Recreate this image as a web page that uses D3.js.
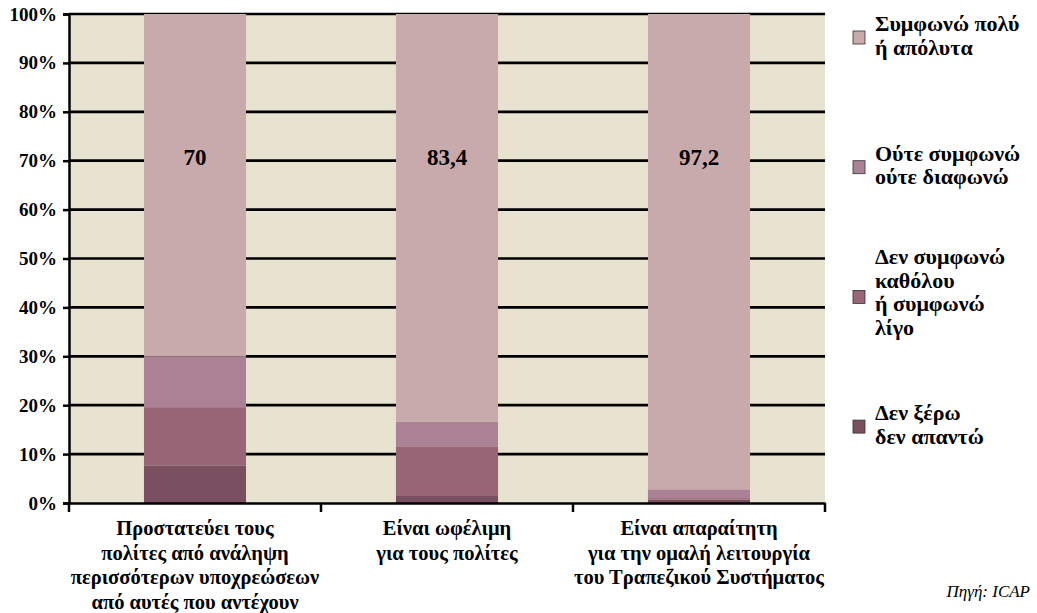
<!DOCTYPE html>
<html>
<head>
<meta charset="utf-8">
<script src="https://cdn.jsdelivr.net/npm/d3@7"></script>
<style>
  body { margin: 0; background: #fff; }
  text { font-family: "Liberation Serif", "Times New Roman", "DejaVu Serif", serif; }
</style>
</head>
<body>
<div id="chart"></div>
<script>
//
// data
//
var categories = [
  ["Προστατεύει τους", "πολίτες από ανάληψη", "περισσότερων υποχρεώσεων", "από αυτές που αντέχουν"],
  ["Είναι ωφέλιμη", "για τους πολίτες"],
  ["Είναι απαραίτητη", "για την ομαλή λειτουργία", "του Τραπεζικού Συστήματος"]
]
var seriesNames = ["Δεν ξέρω δεν απαντώ", "Δεν συμφωνώ καθόλου ή συμφωνώ λίγο", "Ούτε συμφωνώ ούτε διαφωνώ", "Συμφωνώ πολύ ή απόλυτα"]
var dontKnow = [7.7, 1.6, 0.7]
var disagree = [11.9, 10.0, 0.3]
var neutral = [10.4, 5.0, 1.8]
var agree = [70, 83.4, 97.2]
var valueLabels = ["70", "83,4", "97,2"]
var yTicks = [0, 10, 20, 30, 40, 50, 60, 70, 80, 90, 100]
var legendLines = [
  ["Συμφωνώ πολύ", "ή απόλυτα"],
  ["Ούτε συμφωνώ", "ούτε διαφωνώ"],
  ["Δεν συμφωνώ", "καθόλου", "ή συμφωνώ", "λίγο"],
  ["Δεν ξέρω", "δεν απαντώ"]
]
var colors = ["#7a5060", "#996677", "#ab8295", "#c8aaac"]

//
// draw
//
var W = 1037, H = 613
var mLeft = 69, mRight = 825, mTop = 14, mBottom = 503

var svg = d3.select("#chart").append("svg")
  .attr("width", W).attr("height", H)

var x = d3.scaleBand().domain(d3.range(categories.length)).range([mLeft, mRight]).padding(0)
var y = d3.scaleLinear().domain([0, 100]).range([mBottom, mTop])

var rows = categories.map(function(c, i) {
  return {i: i, s0: dontKnow[i], s1: disagree[i], s2: neutral[i], s3: agree[i]}
})
var stack = d3.stack().keys(["s0", "s1", "s2", "s3"])(rows)

// plot background
svg.append("rect")
  .attr("x", mLeft).attr("y", mTop)
  .attr("width", mRight - mLeft).attr("height", mBottom - mTop)
  .attr("fill", "#e8e3d0")

// gridlines
svg.append("g").selectAll("line").data(yTicks.filter(function(d) { return d > 0 }))
  .join("line")
  .attr("x1", mLeft).attr("x2", mRight)
  .attr("y1", function(d) { return y(d) }).attr("y2", function(d) { return y(d) })
  .attr("stroke", "#000").attr("stroke-width", 2.7)

// bars
var barW = x.bandwidth() * 0.405
svg.append("g").selectAll("g").data(stack).join("g")
  .attr("fill", function(d, k) { return colors[k] })
  .selectAll("rect").data(function(d) { return d }).join("rect")
  .attr("x", function(d) { return x(d.data.i) + (x.bandwidth() - barW) / 2 })
  .attr("width", barW)
  .attr("y", function(d) { return y(d[1]) })
  .attr("height", function(d) { return y(d[0]) - y(d[1]) })

// value labels
svg.append("g").selectAll("text").data(valueLabels).join("text")
  .attr("x", function(d, i) { return x(i) + x.bandwidth() / 2 })
  .attr("y", y(70) + 4)
  .attr("text-anchor", "middle")
  .style("font-size", "23px").style("font-weight", "bold")
  .text(function(d) { return d })

// y axis
var yAxis = svg.append("g")
  .attr("transform", "translate(" + mLeft + ",0)")
  .call(d3.axisLeft(y).tickValues(yTicks).tickSize(6).tickPadding(6)
    .tickFormat(function(d) { return d + "%" }))
yAxis.select(".domain").attr("stroke", "#000").attr("stroke-width", 2.5)
yAxis.selectAll(".tick line").attr("stroke", "#000").attr("stroke-width", 2.5)
yAxis.selectAll(".tick text")
  .style("font-size", "19px").style("font-weight", "bold").attr("fill", "#000")

// x axis
var xAxis = svg.append("g")
  .attr("transform", "translate(0," + mBottom + ")")
  .call(d3.axisBottom(x).tickSize(0).tickFormat(""))
xAxis.select(".domain").attr("stroke", "#000").attr("stroke-width", 2.5)
svg.append("g").selectAll("line").data(d3.range(categories.length + 1))
  .join("line")
  .attr("x1", function(d) { return mLeft + d * x.step() })
  .attr("x2", function(d) { return mLeft + d * x.step() })
  .attr("y1", mBottom).attr("y2", mBottom + 9)
  .attr("stroke", "#000").attr("stroke-width", 2.5)

// category labels
svg.append("g").selectAll("text").data(categories).join("text")
  .attr("text-anchor", "middle")
  .style("font-size", "20.5px").style("font-weight", "bold")
  .each(function(lines, i) {
    d3.select(this).selectAll("tspan").data(lines).join("tspan")
      .attr("x", x(i) + x.bandwidth() / 2)
      .attr("y", function(d, j) { return 535 + j * 24.5 })
      .text(function(d) { return d })
  })

// legend
var legendOrder = [3, 2, 1, 0]
var lg = svg.append("g").selectAll("g").data(legendLines).join("g")
  .attr("transform", function(d, k) { return "translate(853," + (36 + k * 129.7) + ")" })
lg.append("rect")
  .attr("x", 0).attr("y", -5).attr("width", 12).attr("height", 13)
  .attr("fill", function(d, k) { return colors[legendOrder[k]] })
  .attr("stroke", "#333").attr("stroke-width", 0.8)
lg.append("text")
  .style("font-size", "22px").style("font-weight", "bold")
  .each(function(lines) {
    var n = lines.length
    d3.select(this).selectAll("tspan").data(lines).join("tspan")
      .attr("x", 22)
      .attr("y", function(d, j) { return (j - (n - 1) / 2) * 23.5 + 7 - (n > 2 ? 3 : 0) })
      .text(function(d) { return d })
  })

// source
svg.append("text")
  .attr("x", 1030).attr("y", 597)
  .attr("text-anchor", "end")
  .style("font-size", "17px").style("font-style", "italic")
  .text("Πηγή: ICAP")
</script>
</body>
</html>
